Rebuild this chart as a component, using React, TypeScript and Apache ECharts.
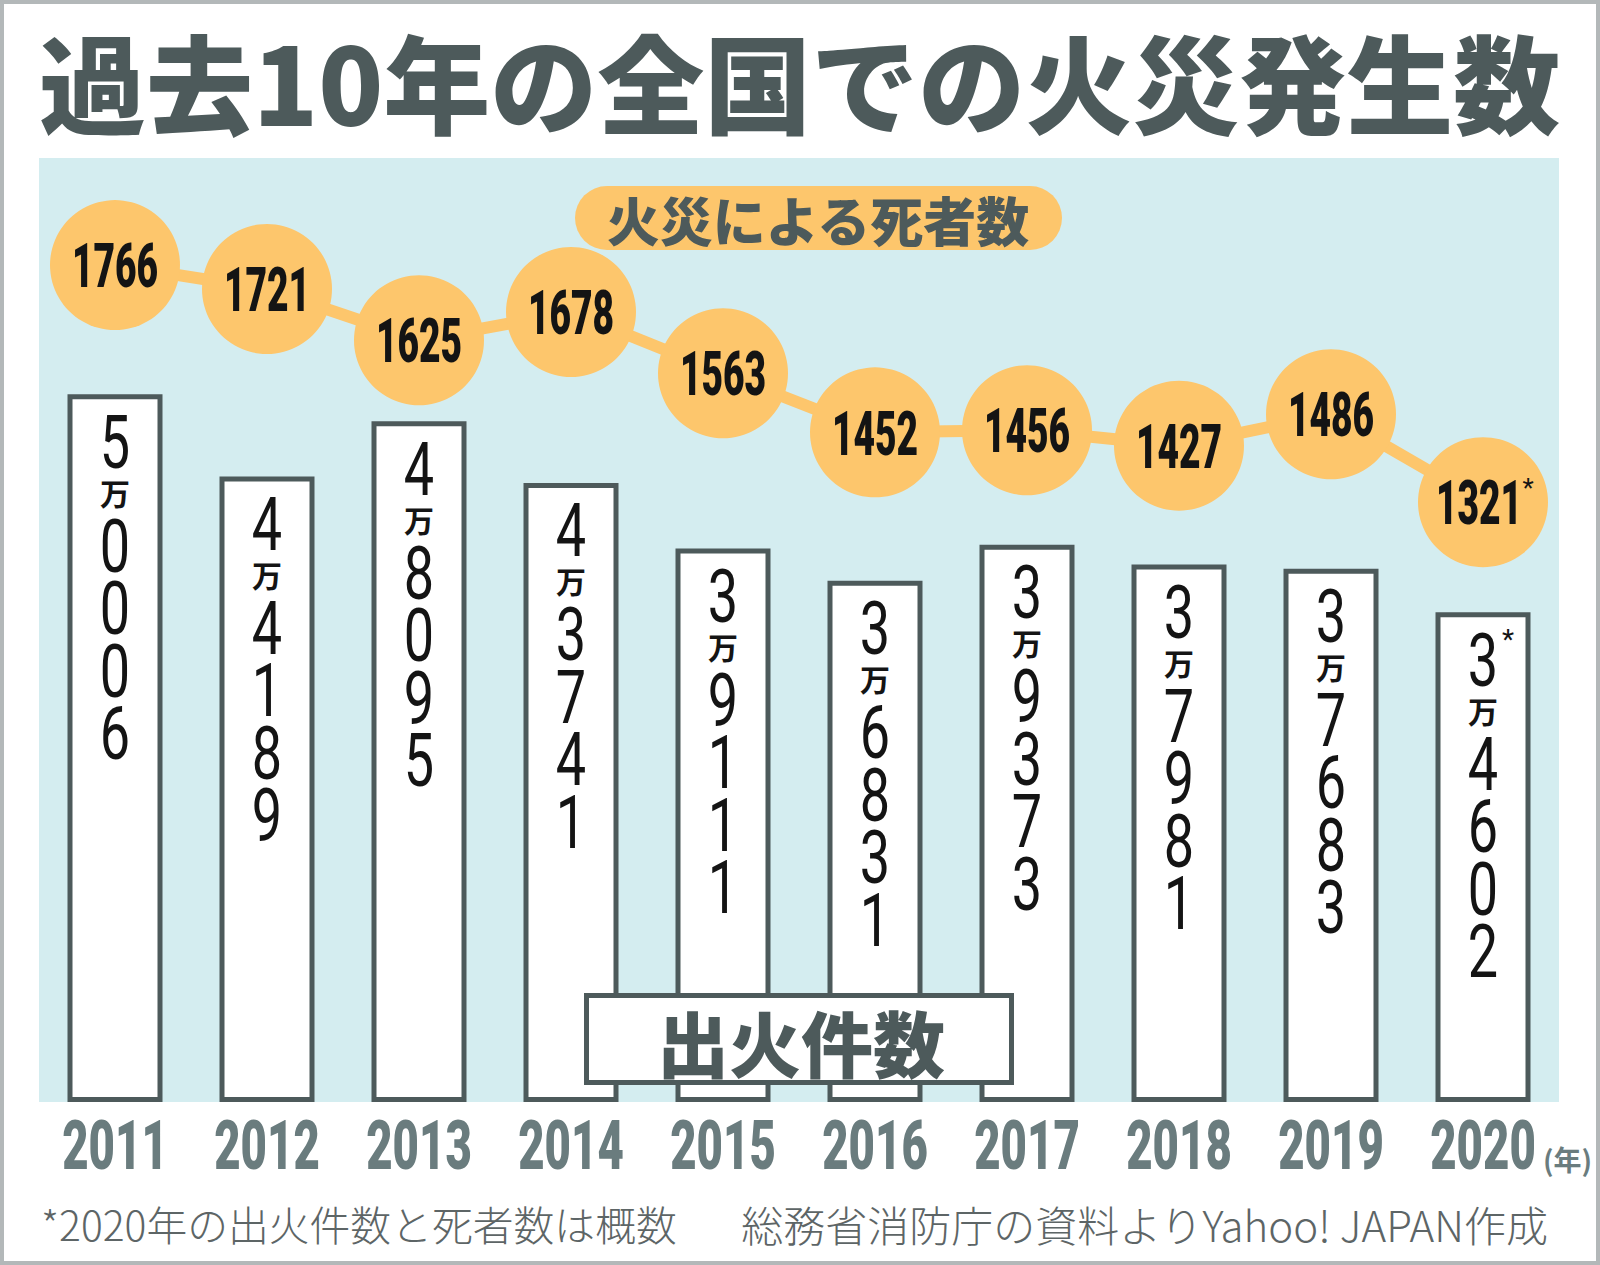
import React, { useEffect, useRef } from 'react';
import * as echarts from 'echarts';

const years = ['2011', '2012', '2013', '2014', '2015', '2016', '2017', '2018', '2019', '2020'];
const fires = [50006, 44189, 48095, 43741, 39111, 36831, 39373, 37981, 37683, 34602];
const deaths = [1766, 1721, 1625, 1678, 1563, 1452, 1456, 1427, 1486, 1321];
const fireNotes = ['', '', '', '', '', '', '', '', '', '*'];
const deathNotes = ['', '', '', '', '', '', '', '', '', '*'];

const titleText = '過去10年の全国での火災発生数';
const deathLegend = '火災による死者数';
const fireLegend = '出火件数';
const yearUnit = '(年)';
const manUnit = '万';
const footnote = '*2020年の出火件数と死者数は概数';
const sourceText = '総務省消防庁の資料よりYahoo! JAPAN作成';

const DARK = '#4d5a5b';
const ORANGE = '#fdc66c';
const BLUE = '#d4edf0';
const GRAY = '#6a7c7e';
const INK = '#141414';
const CJK = '"Noto Sans CJK JP", "Noto Sans", sans-serif';
const NUM = 'Roboto, "Noto Sans", sans-serif';

function deathLabel(params: any, api: any) {
  const i = api.value(0);
  const v = api.value(1);
  const p = api.coord([i, v]);
  const note = deathNotes[i];
  const children: any[] = [
    {
      type: 'text',
      x: p[0] - (note ? 4 : 0),
      y: p[1] + 1,
      scaleX: 0.6,
      style: {
        text: String(v),
        x: 0,
        y: 0,
        align: 'center',
        verticalAlign: 'middle',
        fontSize: 62,
        fontWeight: 900,
        fontFamily: NUM,
        fill: INK,
      },
    },
  ];
  if (note) {
    children.push({
      type: 'text',
      x: p[0] + 45,
      y: p[1] - 14,
      style: { text: note, x: 0, y: 0, align: 'center', verticalAlign: 'middle', fontSize: 26, fontFamily: NUM, fill: INK },
    });
  }
  return { type: 'group', children };
}

function fireLabel(params: any, api: any) {
  const i = api.value(0);
  const v = api.value(1);
  const p = api.coord([i, v]);
  const x = p[0];
  const T = p[1] - 2.5;
  const man = String(Math.floor(v / 10000));
  const rest = String(v % 10000).padStart(4, '0');
  const digitStyle = (t: string) => ({
    text: t,
    x: 0,
    y: 0,
    align: 'center',
    verticalAlign: 'middle',
    fontSize: 75,
    fontWeight: 400,
    fontFamily: NUM,
    fill: INK,
  });
  const children: any[] = [];
  children.push({ type: 'text', x, y: T + 50, scaleX: 0.72, style: digitStyle(man) });
  children.push({
    type: 'text',
    x,
    y: T + 100,
    style: { text: manUnit, x: 0, y: 0, align: 'center', verticalAlign: 'middle', fontSize: 30, fontWeight: 700, fontFamily: CJK, fill: INK },
  });
  rest.split('').forEach((d, k) => {
    children.push({ type: 'text', x, y: T + 154 + k * 62.5, scaleX: 0.72, style: digitStyle(d) });
  });
  const note = fireNotes[i];
  if (note) {
    children.push({
      type: 'text',
      x: x + 25,
      y: T + 30,
      style: { text: note, x: 0, y: 0, align: 'center', verticalAlign: 'middle', fontSize: 28, fontFamily: NUM, fill: INK },
    });
  }
  return { type: 'group', children };
}

function yearLabel(params: any, api: any) {
  const i = api.value(0);
  const p = api.coord([i, 0]);
  return {
    type: 'text',
    x: p[0],
    y: p[1] + 44,
    scaleX: 0.67,
    style: {
      text: years[i],
      x: 0,
      y: 0,
      align: 'center',
      verticalAlign: 'middle',
      fontSize: 68,
      fontWeight: 900,
      fontFamily: NUM,
      fill: GRAY,
    },
  };
}

export default function App() {
  const ref = useRef<HTMLDivElement>(null);
  useEffect(() => {
    document.body.style.margin = '0';
    const chart = echarts.init(ref.current as HTMLDivElement, null, { renderer: 'svg' });
    chart.setOption({
      animation: false,
      backgroundColor: '#ffffff',
      grid: { left: 39, right: 41, top: 158, bottom: 163, show: true, backgroundColor: BLUE, borderWidth: 0 },
      xAxis: {
        type: 'category',
        data: years,
        axisLine: { show: false },
        axisTick: { show: false },
        axisLabel: { show: false },
        splitLine: { show: false },
      },
      yAxis: [
        { type: 'value', min: 0, max: 66700, show: false, splitLine: { show: false } },
        { type: 'value', min: 195, max: 1967, show: false, splitLine: { show: false } },
      ],
      tooltip: { show: false },
      series: [
        {
          type: 'bar',
          data: fires,
          barWidth: 95,
          itemStyle: { color: '#ffffff', borderColor: DARK, borderWidth: 5 },
          silent: true,
          z: 2,
        },
        {
          type: 'line',
          yAxisIndex: 1,
          data: deaths,
          lineStyle: { color: ORANGE, width: 12 },
          symbol: 'circle',
          symbolSize: 130,
          showSymbol: true,
          showAllSymbol: true,
          itemStyle: { color: ORANGE },
          label: { show: false },
          silent: true,
          z: 3,
        },
        {
          type: 'custom',
          yAxisIndex: 1,
          data: deaths.map((v, i) => [i, v]),
          renderItem: deathLabel,
          silent: true,
          z: 5,
        },
        {
          type: 'custom',
          yAxisIndex: 0,
          data: fires.map((v, i) => [i, v]),
          renderItem: fireLabel,
          silent: true,
          z: 5,
        },
        {
          type: 'custom',
          yAxisIndex: 0,
          data: years.map((y, i) => [i, 0]),
          renderItem: yearLabel,
          silent: true,
          z: 5,
        },
      ],
      graphic: [
        {
          type: 'rect',
          z: 100,
          shape: { x: 2, y: 2, width: 1596, height: 1261 },
          style: { fill: 'none', stroke: '#b3b8b9', lineWidth: 4 },
        },
        {
          type: 'text',
          z: 100,
          x: 39,
          y: 79,
          style: { text: titleText, fontSize: 107, fontWeight: 900, fontFamily: CJK, fill: DARK, verticalAlign: 'middle', align: 'left' },
        },
        {
          type: 'rect',
          z: 100,
          shape: { x: 575, y: 186, width: 487, height: 64, r: 32 },
          style: { fill: ORANGE },
        },
        {
          type: 'text',
          z: 101,
          x: 818,
          y: 219,
          style: { text: deathLegend, fontSize: 53, fontWeight: 900, fontFamily: CJK, fill: DARK, align: 'center', verticalAlign: 'middle' },
        },
        {
          type: 'rect',
          z: 100,
          shape: { x: 586.5, y: 995.5, width: 425, height: 87 },
          style: { fill: '#ffffff', stroke: DARK, lineWidth: 5 },
        },
        {
          type: 'text',
          z: 101,
          x: 801,
          y: 1040,
          style: { text: fireLegend, fontSize: 72, fontWeight: 900, fontFamily: CJK, fill: DARK, align: 'center', verticalAlign: 'middle' },
        },
        {
          type: 'text',
          z: 100,
          x: 1543,
          y: 1159,
          style: { text: yearUnit, fontSize: 28, fontWeight: 700, fontFamily: CJK, fill: GRAY, align: 'left', verticalAlign: 'middle' },
        },
        {
          type: 'text',
          z: 100,
          x: 41,
          y: 1223,
          style: { text: footnote, fontSize: 40.8, fontWeight: 300, fontFamily: CJK, fill: '#5d6566', align: 'left', verticalAlign: 'middle' },
        },
        {
          type: 'text',
          z: 100,
          x: 1548,
          y: 1223,
          style: { text: sourceText, fontSize: 42, fontWeight: 300, fontFamily: CJK, fill: '#5d6566', align: 'right', verticalAlign: 'middle' },
        },
      ],
    });
    return () => chart.dispose();
  }, []);
  return <div ref={ref} style={{ width: 1600, height: 1265 }} />;
}
